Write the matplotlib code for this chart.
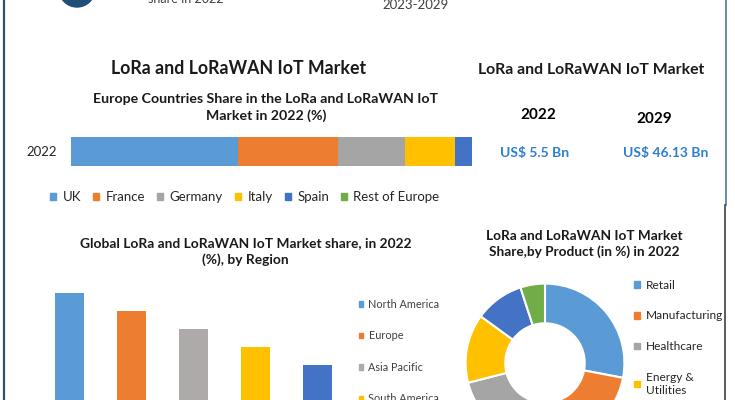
import matplotlib.pyplot as plt
from matplotlib.patches import Circle, Patch

plt.rcParams['font.family'] = ['Lato', 'DejaVu Sans']

W, H = 735, 400

# Europe countries share, 2022 (%)
countries = ['UK', 'France', 'Germany', 'Italy', 'Spain', 'Rest of Europe']
country_share = [41.6, 25.0, 16.7, 12.5, 4.2, 0.0]
country_colors = ['#5B9BD5', '#ED7D31', '#A5A5A5', '#FFC000', '#4472C4', '#70AD47']

# Global share by region, 2022 (%)
regions = ['North America', 'Europe', 'Asia Pacific', 'South America', 'Middle East & Africa']
region_share = [35, 30, 25, 20, 15]
region_colors = ['#5B9BD5', '#ED7D31', '#AEAAAA', '#FFC000', '#4472C4']

# Share by product, 2022 (%)
products = ['Retail', 'Manufacturing', 'Healthcare', 'Energy &\nUtilities', 'Transportation', 'Others']
product_share = [28, 23, 20, 14, 10, 5]
product_colors = ['#5B9BD5', '#ED7D31', '#A5A5A5', '#FFC000', '#4472C4', '#70AD47']

# market size
years = ['2022', '2029']
market_size = ['US$ 5.5 Bn', 'US$ 46.13 Bn']


def box(x0, y0, x1, y1):
    # pixel box (top-left origin) -> figure fraction rect
    return [x0 / W, 1 - y1 / H, (x1 - x0) / W, (y1 - y0) / H]


def fpt(x, y):
    return (x / W, 1 - y / H)


fig = plt.figure(figsize=(W / 100, H / 100), dpi=100)

# background canvas in pixel coords for frame and header bits
canvas = fig.add_axes([0, 0, 1, 1], zorder=-1)
canvas.set_xlim(0, W)
canvas.set_ylim(H, 0)
canvas.axis('off')
canvas.plot([4, 4], [0, 400], color='#2F4F6F', lw=1.6)
canvas.plot([726, 726], [0, 205], color='#4A78A8', lw=1.2)
canvas.plot([725.5, 725.5], [205, 400], color='#404040', lw=1.2)
canvas.add_patch(Circle((77, -11), 18, color='#1F4E79'))
canvas.text(148, 3, 'share in 2022', fontsize=9, color='#404040', va='baseline')
canvas.text(416, 9, '2023-2029', fontsize=9.5, color='#404040', ha='center', va='baseline')

# titles
canvas.text(239, 68, 'LoRa and LoRaWAN IoT Market', fontsize=12.8, fontweight='bold',
            ha='center', va='center', color='#1a1a1a')
canvas.text(266, 107.5, 'Europe Countries Share in the LoRa and LoRaWAN IoT\nMarket in 2022 (%)',
            fontsize=10.2, fontweight='bold', ha='center', va='center', color='#1a1a1a',
            linespacing=1.45)
canvas.text(591.5, 70, 'LoRa and LoRaWAN IoT Market', fontsize=11.3, fontweight='bold',
            ha='center', va='center', color='#1a1a1a')
for x, xv, y, yr, val in zip([538, 654], [534.5, 665.5], [115, 119], years, market_size):
    canvas.text(x, y, yr, fontsize=11, fontweight='bold', ha='center', va='center', color='black')
    canvas.text(xv, 153, val, fontsize=10, fontweight='bold', ha='center', va='center', color='#2F7FD0')

# stacked bar of European countries
ax1 = fig.add_axes(box(71, 137, 472, 166))
left = 0
for name, v, c in zip(countries, country_share, country_colors):
    ax1.barh(0, v, left=left, height=1, color=c, label=name)
    left += v
ax1.set_xlim(0, 100)
ax1.set_ylim(-0.5, 0.5)
ax1.set_yticks([0], ['2022'])
ax1.set_xticks([])
ax1.tick_params(axis='y', length=0, pad=10, labelsize=9.5, labelcolor='#262626')
for s in ax1.spines.values():
    s.set_visible(False)
fig.legend(handles=[Patch(color=c, label=n) for n, c in zip(countries, country_colors)],
           loc='center', bbox_to_anchor=fpt(245, 197), ncol=6, frameon=False,
           fontsize=9.5, handlelength=0.45, handleheight=0.45, handletextpad=0.5,
           columnspacing=0.9, labelcolor='#262626')

# regional bar chart
canvas.text(245.5, 252, 'Global LoRa and LoRaWAN IoT Market share, in 2022\n(%), by Region',
            fontsize=9.9, fontweight='bold', ha='center', va='center', color='#1a1a1a',
            linespacing=1.4)
ax2 = fig.add_axes(box(38.5, 275, 348.5, 419))
ax2.bar(range(len(regions)), region_share, width=0.48, color=region_colors)
ax2.set_xlim(-0.5, 4.5)
ax2.set_ylim(0, 40)
ax2.axis('off')
fig.legend(handles=[Patch(color=c, label=n) for n, c in zip(regions, region_colors)],
           loc='upper left', bbox_to_anchor=fpt(349, 289), frameon=False,
           fontsize=7.8, handlelength=0.4, handleheight=0.4, handletextpad=0.5,
           labelspacing=1.9, labelcolor='#404040')

# product donut
canvas.text(584, 244, 'LoRa and LoRaWAN IoT Market\nShare,by Product (in %) in 2022',
            fontsize=9.8, fontweight='bold', ha='center', va='center', color='#1a1a1a',
            linespacing=1.4)
ax3 = fig.add_axes(box(464, 282, 626, 444))
ax3.pie(product_share, colors=product_colors, startangle=90, counterclock=False,
        radius=1, wedgeprops=dict(width=0.5, edgecolor='white', linewidth=1.5))
ax3.set_xlim(-1.02, 1.02)
ax3.set_ylim(-1.02, 1.02)
fig.legend(handles=[Patch(color=c, label=n) for n, c in zip(products, product_colors)],
           loc='upper left', bbox_to_anchor=fpt(623, 269), frameon=False,
           fontsize=8.6, handlelength=0.5, handleheight=0.5, handletextpad=0.5,
           labelspacing=1.65, labelcolor='#262626')

fig.savefig('out.png', dpi=100)
